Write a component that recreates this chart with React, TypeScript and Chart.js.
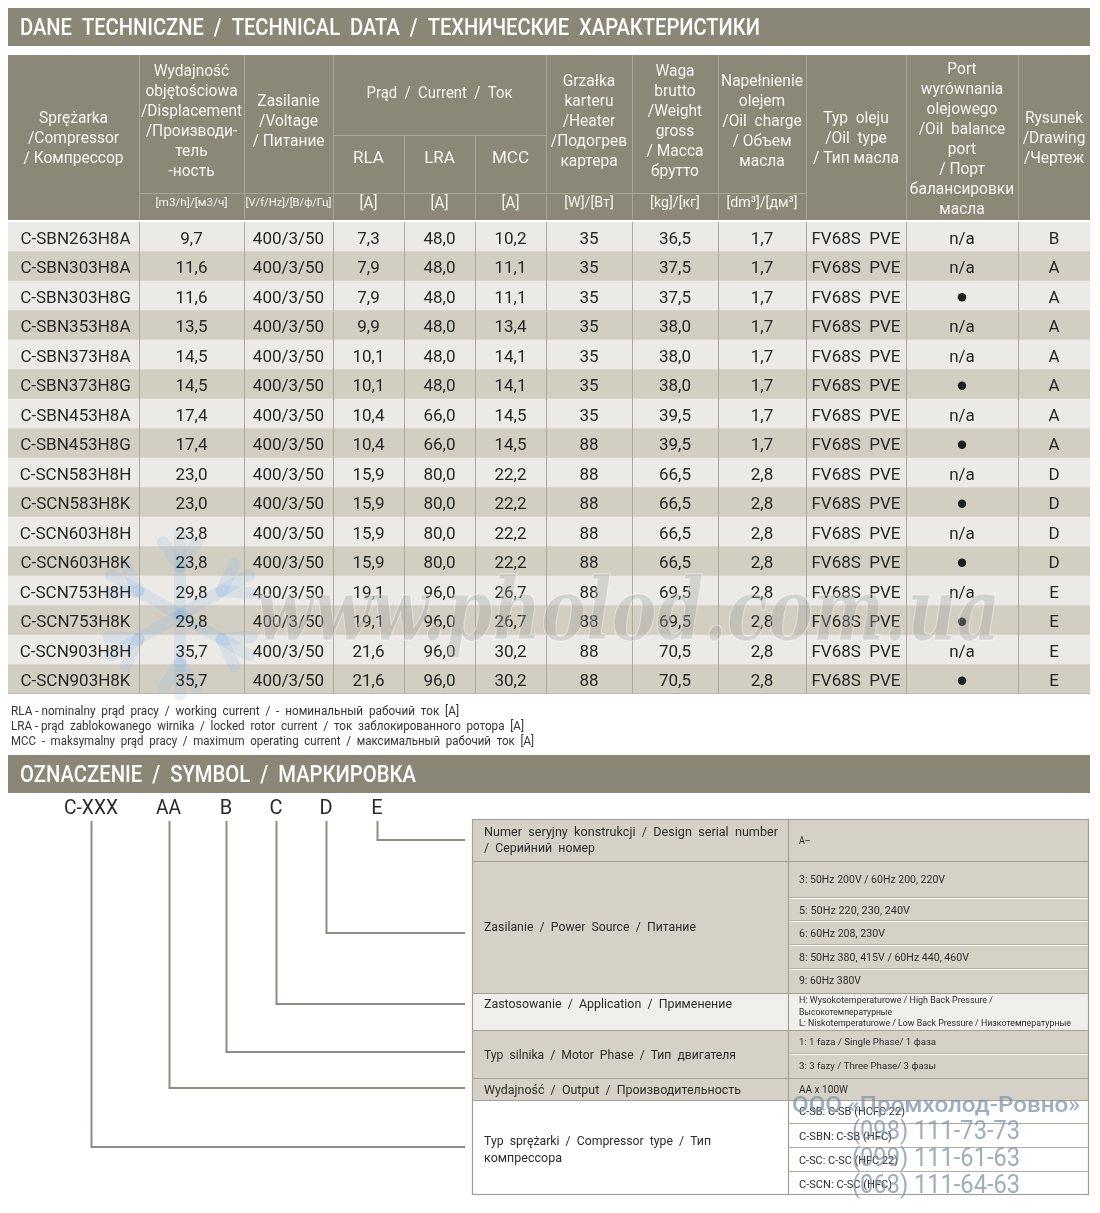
import React, { useEffect, useRef } from "react";
import { Chart, registerables } from "chart.js";
Chart.register(...registerables);

// ---------------- DATA ----------------
const models = ["C-SBN263H8A", "C-SBN303H8A", "C-SBN303H8G", "C-SBN353H8A", "C-SBN373H8A", "C-SBN373H8G", "C-SBN453H8A", "C-SBN453H8G", "C-SCN583H8H", "C-SCN583H8K", "C-SCN603H8H", "C-SCN603H8K", "C-SCN753H8H", "C-SCN753H8K", "C-SCN903H8H", "C-SCN903H8K"];
const displacement = [9.7, 11.6, 11.6, 13.5, 14.5, 14.5, 17.4, 17.4, 23.0, 23.0, 23.8, 23.8, 29.8, 29.8, 35.7, 35.7];
const voltage = ["400/3/50", "400/3/50", "400/3/50", "400/3/50", "400/3/50", "400/3/50", "400/3/50", "400/3/50", "400/3/50", "400/3/50", "400/3/50", "400/3/50", "400/3/50", "400/3/50", "400/3/50", "400/3/50"];
const rla = [7.3, 7.9, 7.9, 9.9, 10.1, 10.1, 10.4, 10.4, 15.9, 15.9, 15.9, 15.9, 19.1, 19.1, 21.6, 21.6];
const lra = [48.0, 48.0, 48.0, 48.0, 48.0, 48.0, 66.0, 66.0, 80.0, 80.0, 80.0, 80.0, 96.0, 96.0, 96.0, 96.0];
const mcc = [10.2, 11.1, 11.1, 13.4, 14.1, 14.1, 14.5, 14.5, 22.2, 22.2, 22.2, 22.2, 26.7, 26.7, 30.2, 30.2];
const heater = [35, 35, 35, 35, 35, 35, 35, 88, 88, 88, 88, 88, 88, 88, 88, 88];
const weight = [36.5, 37.5, 37.5, 38.0, 38.0, 38.0, 39.5, 39.5, 66.5, 66.5, 66.5, 66.5, 69.5, 69.5, 70.5, 70.5];
const oilCharge = [1.7, 1.7, 1.7, 1.7, 1.7, 1.7, 1.7, 1.7, 2.8, 2.8, 2.8, 2.8, 2.8, 2.8, 2.8, 2.8];
const oilType = ["FV68S  PVE", "FV68S  PVE", "FV68S  PVE", "FV68S  PVE", "FV68S  PVE", "FV68S  PVE", "FV68S  PVE", "FV68S  PVE", "FV68S  PVE", "FV68S  PVE", "FV68S  PVE", "FV68S  PVE", "FV68S  PVE", "FV68S  PVE", "FV68S  PVE", "FV68S  PVE"];
const balancePort = ["n/a", "n/a", "●", "n/a", "n/a", "●", "n/a", "●", "n/a", "●", "n/a", "●", "n/a", "●", "n/a", "●"];
const drawing = ["B", "A", "A", "A", "A", "A", "A", "A", "D", "D", "D", "D", "E", "E", "E", "E"];
const rowBand = [1, 1, 1, 1, 1, 1, 1, 1, 1, 1, 1, 1, 1, 1, 1, 1];

const legendLines = [
  "RLA - nominalny  prąd  pracy  /  working  current  /  -  номинальный  рабочий  ток  [A]",
  "LRA - prąd  zablokowanego  wirnika  /  locked  rotor  current  /  ток  заблокированного  ротора  [A]",
  "MCC  -  maksymalny  prąd  pracy  /  maximum  operating  current  /  максимальный  рабочий  ток  [A]",
];
const symbolParts = ["C-XXX", "AA", "B", "C", "D", "E"];

// ---------------- STYLE / LAYOUT ----------------
const FONT = "Roboto, 'Open Sans', sans-serif";
const BAR = "#8b8776";
const HEAD = "#8c8878";
const HEAD_LINE = "#a9a697";
const ROW_LIGHT = "#ebeae6";
const ROW_TAN = "#d3cec2";
const BODY_LINE = "#aca89b";
const TXT = "#262626";
const colX = [8, 139, 244, 333, 404, 475, 546, 632, 718, 806, 906, 1018, 1090];

type TOpt = { color?: string; align?: string; sx?: number; weight?: string; fit?: number; italic?: boolean; family?: string; };
function drawText(ctx: CanvasRenderingContext2D, s: string, x: number, y: number, size: number, o: TOpt = {}) {
  const { color = TXT, align = "center", sx = 1, weight = "400", fit, italic = false, family = FONT } = o;
  ctx.save();
  ctx.font = `${italic ? "italic " : ""}${weight} ${size}px ${family}`;
  ctx.fillStyle = color;
  ctx.textBaseline = "alphabetic";
  ctx.textAlign = "left";
  const m = ctx.measureText(s).width;
  const k = fit ? fit / m : sx;
  const w = m * k;
  const x0 = align === "center" ? x - w / 2 : align === "right" ? x - w : x;
  ctx.translate(x0, y + size * 0.35);
  ctx.scale(k, 1);
  ctx.fillText(s, 0, 0);
  ctx.restore();
}
function line(ctx: CanvasRenderingContext2D, x1: number, y1: number, x2: number, y2: number, color: string, w = 1) {
  ctx.save();
  ctx.strokeStyle = color;
  ctx.lineWidth = w;
  ctx.beginPath();
  ctx.moveTo(x1, y1);
  ctx.lineTo(x2, y2);
  ctx.stroke();
  ctx.restore();
}
const cx = (c: number) => (colX[c] + colX[c + 1]) / 2;
const f1 = (v: number) => v.toFixed(1).replace(".", ",");

const headerCols = [
  { c: 0, y0: 117, lines: ["Sprężarka", "/Compressor", "/ Компрессор"] },
  { c: 1, y0: 70, lines: ["Wydajność", "objętościowa", "/Displacement", "/Производи-", "тель", "-ность"] },
  { c: 2, y0: 100, lines: ["Zasilanie", "/Voltage", "/ Питание"] },
  { c: 6, y0: 80, lines: ["Grzałka", "karteru", "/Heater", "/Подогрев", "картера"] },
  { c: 7, y0: 70, lines: ["Waga", "brutto", "/Weight", "gross", "/ Масса", "брутто"] },
  { c: 8, y0: 80, lines: ["Napełnienie", "olejem", "/Oil  charge", "/ Объем", "масла"] },
  { c: 9, y0: 117, lines: ["Typ  oleju", "/Oil  type", "/ Тип масла"] },
  { c: 10, y0: 68, lines: ["Port", "wyrównania", "olejowego", "/Oil  balance", "port", "/ Порт", "балансировки", "масла"] },
  { c: 11, y0: 117, lines: ["Rysunek", "/Drawing", "/Чертеж"] },
];
const unitCells = [
  { c: 1, t: "[m3/h]/[м3/ч]", s: 11, fit: 72 },
  { c: 2, t: "[V/f/Hz]/[B/ф/Гц]", s: 11, fit: 86 },
  { c: 3, t: "[A]", s: 16 },
  { c: 4, t: "[A]", s: 16 },
  { c: 5, t: "[A]", s: 16 },
  { c: 6, t: "[W]/[Вт]", s: 15 },
  { c: 7, t: "[kg]/[кг]", s: 15 },
  { c: 8, t: "[dm³]/[дм³]", s: 15 },
];

const tablePlugin = {
  id: "tablePlugin",
  beforeDraw(chart: any) {
    const ctx: CanvasRenderingContext2D = chart.ctx;
    ctx.save();
    ctx.fillStyle = "#ffffff";
    ctx.fillRect(0, 0, chart.width, chart.height);
    // title bar 1
    ctx.fillStyle = BAR;
    ctx.fillRect(8, 8, 1082, 38);
    drawText(ctx, "DANE  TECHNICZNE  /  TECHNICAL  DATA  /  ТЕХНИЧЕСКИЕ  ХАРАКТЕРИСТИКИ", 20, 27, 24, { color: "#ffffff", align: "left", weight: "500", fit: 740 });
    // header block
    ctx.fillStyle = HEAD;
    ctx.fillRect(8, 55, 1082, 165);
    for (let i = 1; i < colX.length - 1; i++) {
      const top = i === 4 || i === 5 ? 135 : 55;
      line(ctx, colX[i] + 0.5, top, colX[i] + 0.5, 220, HEAD_LINE);
    }
    line(ctx, 333, 135.5, 546, 135.5, HEAD_LINE);
    line(ctx, 139, 193.5, 806, 193.5, HEAD_LINE);
    const W = "#f6f5f0";
    headerCols.forEach((h) => {
      h.lines.forEach((t, k) => drawText(ctx, t, cx(h.c), h.y0 + k * 20, 16, { color: W, sx: 0.97 }));
    });
    drawText(ctx, "Prąd  /  Current  /  Ток", 439.5, 92, 16, { color: W, fit: 146 });
    ["RLA", "LRA", "MCC"].forEach((t, k) => drawText(ctx, t, cx(3 + k), 157, 17, { color: W }));
    unitCells.forEach((u) => drawText(ctx, u.t, cx(u.c), 202, u.s, { color: W, fit: u.fit, sx: 0.95 }));
    ctx.restore();
  },
  afterDatasetsDraw(chart: any) {
    const ctx: CanvasRenderingContext2D = chart.ctx;
    const area = chart.chartArea;
    const ys = chart.scales.y;
    // snowflake watermark (behind text)
    ctx.save();
    ctx.strokeStyle = "rgba(140,185,230,0.20)";
    ctx.lineWidth = 12;
    ctx.lineCap = "round";
    const sc = { x: 180, y: 615 };
    for (let a = 0; a < 6; a++) {
      const ang = (Math.PI / 3) * a + Math.PI / 2;
      const ex = sc.x + Math.cos(ang) * 80, ey = sc.y + Math.sin(ang) * 80;
      ctx.beginPath(); ctx.moveTo(sc.x, sc.y); ctx.lineTo(ex, ey); ctx.stroke();
      const bx = sc.x + Math.cos(ang) * 48, by = sc.y + Math.sin(ang) * 48;
      for (const d of [-0.6, 0.6]) {
        ctx.beginPath(); ctx.moveTo(bx, by);
        ctx.lineTo(bx + Math.cos(ang + d) * 30, by + Math.sin(ang + d) * 30); ctx.stroke();
      }
    }
    ctx.restore();
    // vertical separators
    for (let i = 1; i < colX.length - 1; i++) line(ctx, colX[i] + 0.5, area.top, colX[i] + 0.5, area.bottom, BODY_LINE);
    line(ctx, area.left, area.bottom - 0.5, area.right, area.bottom - 0.5, "#bcb7ab");
    models.forEach((m, i) => {
      const y = ys.getPixelForValue(i) + 1;
      const cells = [m, f1(displacement[i]), voltage[i], f1(rla[i]), f1(lra[i]), f1(mcc[i]), String(heater[i]), f1(weight[i]), f1(oilCharge[i]), oilType[i], balancePort[i], drawing[i]];
      cells.forEach((t, c) => {
        if (t === "●") {
          ctx.save();
          ctx.fillStyle = "#1e1e1e";
          ctx.beginPath();
          ctx.arc(cx(c), y + 0.5, 4.2, 0, Math.PI * 2);
          ctx.fill();
          ctx.restore();
        } else {
          drawText(ctx, t, c === 0 ? cx(c) + 2 : cx(c), y, 17, { color: TXT });
        }
      });
    });
  },
  afterDraw(chart: any) {
    const ctx: CanvasRenderingContext2D = chart.ctx;
    // URL watermark over table
    ctx.save();
    ctx.font = "italic bold 86px 'DejaVu Serif', serif";
    const s = "www.pholod.com.ua";
    const m = ctx.measureText(s).width;
    ctx.translate(255, 640);
    ctx.scale(745 / m, 1);
    ctx.fillStyle = "rgba(160,160,160,0.33)";
    ctx.fillText(s, 0, 0);
    ctx.lineWidth = 1.5;
    ctx.strokeStyle = "rgba(255,255,255,0.35)";
    ctx.strokeText(s, 0, 0);
    ctx.restore();

    // legend
    const lw = [448, 513, 523];
    legendLines.forEach((t, k) => drawText(ctx, t, 11, 711 + k * 15, 12.5, { color: "#333", align: "left", fit: lw[k] }));

    // title bar 2
    ctx.fillStyle = BAR;
    ctx.fillRect(8, 755, 1082, 38);
    drawText(ctx, "OZNACZENIE  /  SYMBOL  /  МАРКИРОВКА", 20, 774, 24, { color: "#ffffff", align: "left", weight: "500", fit: 396 });

    // symbol letters
    const px = [91, 168.5, 226, 276, 326, 377];
    const pw = [54, 25, 0, 0, 0, 0];
    symbolParts.forEach((t, k) => drawText(ctx, t, px[k], 807, 21, { color: "#2a2a2a", fit: pw[k] || undefined, sx: 0.95 }));

    // right box
    const L = 472, D = 788, R = 1089;
    const TAN = "#d5d1c6", LIGHT = "#f0efeb";
    const sections = [
      { y1: 819, y2: 861, bg: TAN },
      { y1: 861, y2: 993, bg: TAN },
      { y1: 993, y2: 1030, bg: LIGHT },
      { y1: 1030, y2: 1078, bg: TAN },
      { y1: 1078, y2: 1100, bg: TAN },
      { y1: 1100, y2: 1195, bg: "#ffffff" },
    ];
    sections.forEach((sct) => { ctx.fillStyle = sct.bg; ctx.fillRect(L, sct.y1, R - L, sct.y2 - sct.y1); });
    const BL = "#a4a194";
    sections.forEach((sct) => line(ctx, L, sct.y1 + 0.5, R, sct.y1 + 0.5, BL, 1.2));
    [898, 921, 945, 969, 1054, 1124, 1148, 1172].forEach((yy) => {
      line(ctx, D, yy - 0.5, R, yy - 0.5, "#b3afa3");
      line(ctx, D, yy + 0.5, R, yy + 0.5, "#fbfbf8");
    });
    ctx.save();
    ctx.strokeStyle = BL;
    ctx.lineWidth = 1.2;
    ctx.strokeRect(L + 0.5, 819.5, R - L - 1, 1195 - 819 - 1);
    ctx.restore();
    line(ctx, D + 0.5, 819, D + 0.5, 1195, BL, 1.2);

    const BT = "#2c2c2c";
    drawText(ctx, "Numer  seryjny  konstrukcji  /  Design  serial  number", 484, 831, 13.5, { color: BT, align: "left", fit: 294 });
    drawText(ctx, "/  Серийний  номер", 484, 847, 13.5, { color: BT, align: "left", fit: 111 });
    drawText(ctx, "Zasilanie  /  Power  Source  /  Питание", 484, 926, 13.5, { color: BT, align: "left", fit: 212 });
    drawText(ctx, "Zastosowanie  /  Application  /  Применение", 484, 1003, 13.5, { color: BT, align: "left", fit: 248 });
    drawText(ctx, "Typ  silnika  /  Motor  Phase  /  Тип  двигателя", 484, 1054, 13.5, { color: BT, align: "left", fit: 252 });
    drawText(ctx, "Wydajność  /  Output  /  Производительность", 484, 1089, 13.5, { color: BT, align: "left", fit: 257 });
    drawText(ctx, "Typ  sprężarki  /  Compressor  type  /  Тип", 484, 1140, 13.5, { color: BT, align: "left", fit: 227 });
    drawText(ctx, "компрессора", 484, 1157, 13.5, { color: BT, align: "left", fit: 78 });

    const rs = 10.5;
    const rx = 799;
    drawText(ctx, "A–", rx, 840, rs, { color: BT, align: "left", sx: 0.85 });
    drawText(ctx, "3: 50Hz 200V / 60Hz 200, 220V", rx, 879, rs, { color: BT, align: "left", fit: 146 });
    drawText(ctx, "5: 50Hz 220, 230, 240V", rx, 910, rs, { color: BT, align: "left", fit: 111 });
    drawText(ctx, "6: 60Hz 208, 230V", rx, 933, rs, { color: BT, align: "left", fit: 86 });
    drawText(ctx, "8: 50Hz 380, 415V / 60Hz 440, 460V", rx, 957, rs, { color: BT, align: "left", fit: 170 });
    drawText(ctx, "9: 60Hz 380V", rx, 980, rs, { color: BT, align: "left", fit: 62 });
    drawText(ctx, "H: Wysokotemperaturowe / High Back Pressure /", rx, 1000, 9.5, { color: BT, align: "left", fit: 194 });
    drawText(ctx, "Высокотемпературные", rx, 1012, 9.5, { color: BT, align: "left", fit: 93 });
    drawText(ctx, "L: Niskotemperaturowe / Low Back Pressure / Низкотемпературные", rx, 1023, 9.5, { color: BT, align: "left", fit: 272 });
    drawText(ctx, "1: 1 faza / Single Phase/ 1 фаза", rx, 1042, 9.5, { color: BT, align: "left", fit: 137 });
    drawText(ctx, "3: 3 fazy / Three Phase/ 3 фазы", rx, 1066, 9.5, { color: BT, align: "left", fit: 137 });
    drawText(ctx, "AA x 100W", rx, 1089, 10, { color: BT, align: "left", fit: 49 });
    drawText(ctx, "C-SB: C-SB (HCFC 22)", rx, 1111, rs, { color: BT, align: "left", fit: 106 });
    drawText(ctx, "C-SBN: C-SB (HFC)", rx, 1136, rs, { color: BT, align: "left", fit: 93 });
    drawText(ctx, "C-SC: C-SC (HFC 22)", rx, 1160, rs, { color: BT, align: "left", fit: 99 });
    drawText(ctx, "C-SCN: C-SC (HFC)", rx, 1184, rs, { color: BT, align: "left", fit: 93 });

    // connectors
    const LC = "#8f8d80";
    const ends = [1147, 1088, 1052, 1004, 933, 840];
    px.forEach((x, k) => {
      const xx = Math.round(x) + 0.5;
      line(ctx, xx, 821, xx, ends[k], LC, 2);
      line(ctx, xx - 1, ends[k], 465, ends[k], LC, 2);
    });

    // company watermark
    const WC = "rgba(125,145,170,0.75)";
    drawText(ctx, "ООО «Промхолод-Ровно»", 936, 1104, 22, { color: WC, fit: 288, weight: "500" });
    drawText(ctx, "(098) 111-73-73", 936, 1130, 26, { color: WC, fit: 168 });
    drawText(ctx, "(099) 111-61-63", 936, 1157, 26, { color: WC, fit: 168 });
    drawText(ctx, "(063) 111-64-63", 936, 1184, 26, { color: WC, fit: 168 });
  },
};

export default function App() {
  const ref = useRef<HTMLCanvasElement>(null);
  useEffect(() => {
    const canvas = ref.current!;
    const chart = new Chart(canvas, {
      type: "bar",
      data: {
        labels: models,
        datasets: [
          {
            data: rowBand,
            backgroundColor: models.map((_, i) => (i % 2 === 0 ? ROW_LIGHT : ROW_TAN)),
            borderWidth: 0,
            barPercentage: 1,
            categoryPercentage: 1,
          },
        ],
      },
      options: {
        indexAxis: "y",
        responsive: false,
        animation: false,
        devicePixelRatio: 1,
        events: [],
        layout: { padding: { left: 8, right: 10, top: 222, bottom: 519 } },
        scales: {
          x: { display: false, min: 0, max: 1 },
          y: { display: false },
        },
        plugins: { legend: { display: false }, tooltip: { enabled: false } },
      },
      plugins: [tablePlugin],
    } as any);
    return () => chart.destroy();
  }, []);
  return (
    <canvas
      ref={ref}
      width={1100}
      height={1213}
      style={{ position: "absolute", left: 0, top: 0, width: 1100, height: 1213, display: "block" }}
    />
  );
}
